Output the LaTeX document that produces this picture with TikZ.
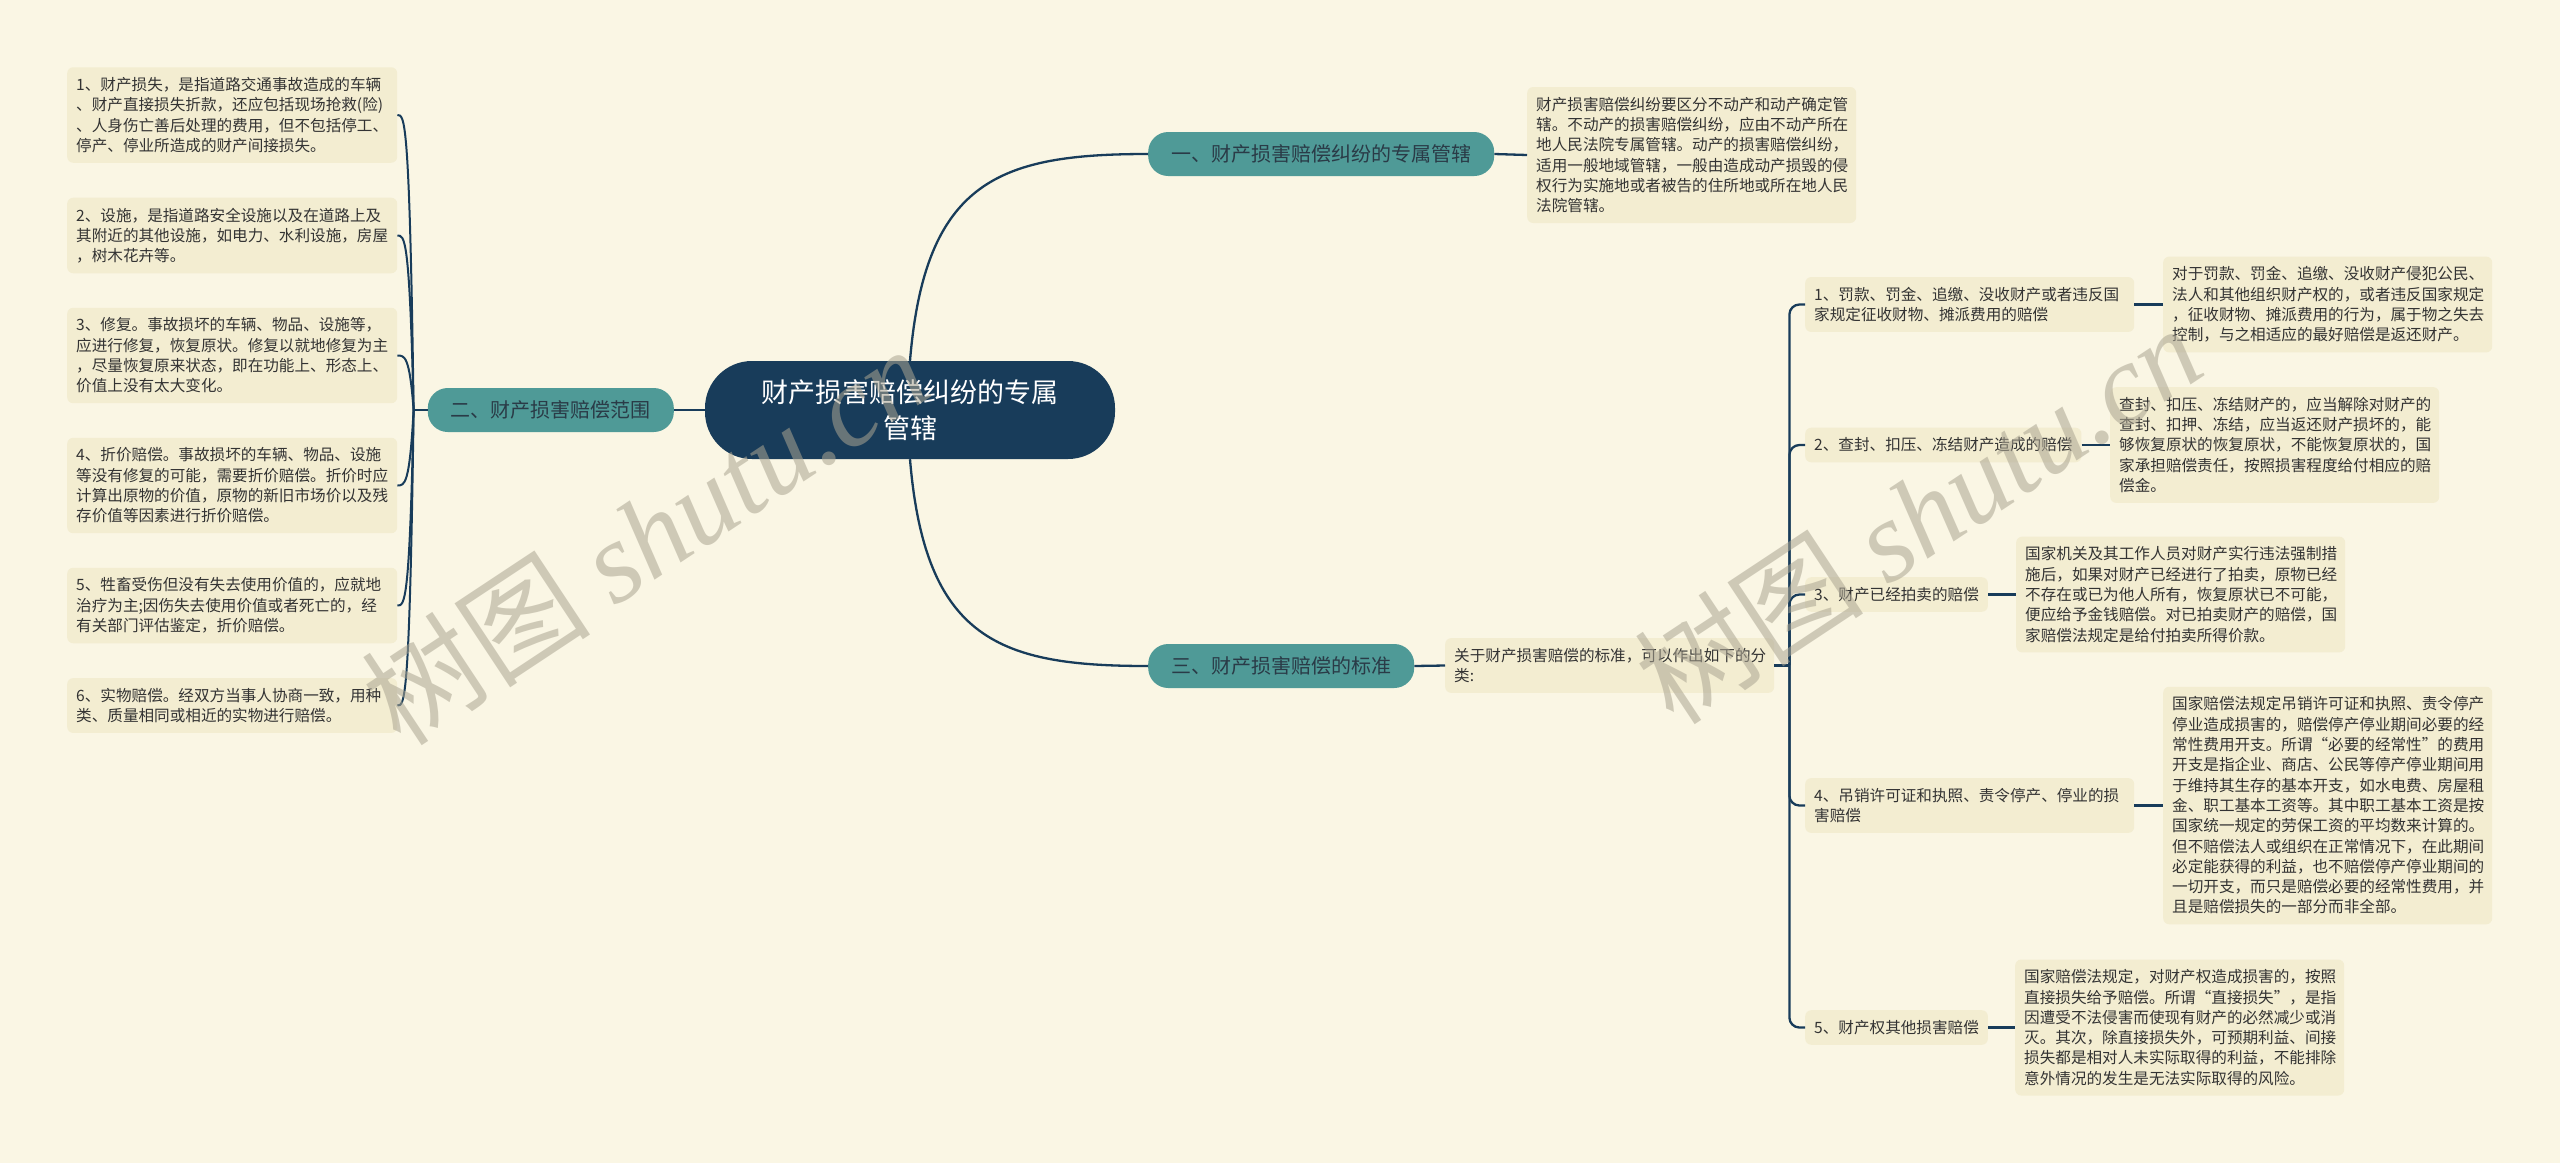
\documentclass[tikz,border=0pt]{standalone}
\usepackage{fontspec}
\setmainfont{Noto Sans CJK SC}
\newfontfamily\wmserif{Liberation Serif}
\usetikzlibrary{calc}
\definecolor{bg}{HTML}{FAF6E4}
\definecolor{leaf}{HTML}{F3EDD1}
\definecolor{navy}{HTML}{183C5A}
\definecolor{teal}{HTML}{4F9A97}
\definecolor{txt}{HTML}{333333}
\definecolor{brtxt}{HTML}{2A3B47}
\definecolor{wm}{HTML}{ABA592}
\begin{document}
\begin{tikzpicture}[x=1pt,y=-1pt,
  conn/.style={draw=navy, line width=2.3pt},
  leafbox/.style={fill=leaf, rounded corners=6pt, align=left, text width=#1,
    inner xsep=9pt, inner ysep=10pt, text=txt, anchor=west,
    font=\fontsize{15.6pt}{20.3pt}\selectfont},
  leafbox/.default=311pt,
  itembox/.style={fill=leaf, rounded corners=6pt, align=left,
    inner xsep=9pt, inner ysep=10pt, text=txt, anchor=west,
    font=\fontsize{15.6pt}{20.3pt}\selectfont},
  branch/.style={fill=teal, rounded corners=20pt, inner xsep=23pt, inner ysep=0pt,
    minimum height=44pt, text=brtxt, font=\fontsize{20pt}{24pt}\selectfont},
  rootbox/.style={fill=navy, rounded corners=47pt, minimum width=410pt, minimum height=98pt,
    text width=320pt, align=center, text=white, font=\fontsize{27pt}{36pt}\selectfont},
  wmark/.style={text=wm, text opacity=0.55, rotate=33.5, font=\fontsize{115pt}{120pt}\selectfont}
]
\useasboundingbox (0,0) rectangle (2560,1163);
\fill[bg] (0,0) rectangle (2560,1163);

% root and main branches
\node[rootbox] (c) at (910,410) {财产损害赔偿纠纷的专属\\管辖};
\node[branch, anchor=west] (br1) at (1148,154) {一、财产损害赔偿纠纷的专属管辖};
\node[branch, anchor=east] (br2) at (674,410) {二、财产损害赔偿范围};
\node[branch, anchor=west] (br3) at (1148,666) {三、财产损害赔偿的标准};

% branch 1 detail
\node[leafbox] (bd) at (1527,155) {财产损害赔偿纠纷要区分不动产和动产确定管\\辖。不动产的损害赔偿纠纷，应由不动产所在\\地人民法院专属管辖。动产的损害赔偿纠纷，\\适用一般地域管辖，一般由造成动产损毁的侵\\权行为实施地或者被告的住所地或所在地人民\\法院管辖。};

% branch 2 leaves
\node[leafbox=312pt] (l1) at (67,115) {1、财产损失，是指道路交通事故造成的车辆\\、财产直接损失折款，还应包括现场抢救(险)\\、人身伤亡善后处理的费用，但不包括停工、\\停产、停业所造成的财产间接损失。};
\node[leafbox=312pt] (l2) at (67,235.5) {2、设施，是指道路安全设施以及在道路上及\\其附近的其他设施，如电力、水利设施，房屋\\，树木花卉等。};
\node[leafbox=312pt] (l3) at (67,355.5) {3、修复。事故损坏的车辆、物品、设施等，\\应进行修复，恢复原状。修复以就地修复为主\\，尽量恢复原来状态，即在功能上、形态上、\\价值上没有太大变化。};
\node[leafbox=312pt] (l4) at (67,485.5) {4、折价赔偿。事故损坏的车辆、物品、设施\\等没有修复的可能，需要折价赔偿。折价时应\\计算出原物的价值，原物的新旧市场价以及残\\存价值等因素进行折价赔偿。};
\node[leafbox=312pt] (l5) at (67,605.5) {5、牲畜受伤但没有失去使用价值的，应就地\\治疗为主;因伤失去使用价值或者死亡的，经\\有关部门评估鉴定，折价赔偿。};
\node[leafbox=312pt] (l6) at (67,705.5) {6、实物赔偿。经双方当事人协商一致，用种\\类、质量相同或相近的实物进行赔偿。};

% branch 3 intro and items
\node[leafbox] (intro) at (1445,665.5) {关于财产损害赔偿的标准，可以作出如下的分\\类:};

\node[leafbox] (i1) at (1805,304.5) {1、罚款、罚金、追缴、没收财产或者违反国\\家规定征收财物、摊派费用的赔偿};
\node[itembox] (i2) at (1805,445) {2、查封、扣压、冻结财产造成的赔偿};
\node[itembox] (i3) at (1805,594.5) {3、财产已经拍卖的赔偿};
\node[leafbox] (i4) at (1805,805.5) {4、吊销许可证和执照、责令停产、停业的损\\害赔偿};
\node[itembox] (i5) at (1805,1027.5) {5、财产权其他损害赔偿};

\node[leafbox] (d1) at (2163,304.5) {对于罚款、罚金、追缴、没收财产侵犯公民、\\法人和其他组织财产权的，或者违反国家规定\\，征收财物、摊派费用的行为，属于物之失去\\控制，与之相适应的最好赔偿是返还财产。};
\node[leafbox] (d2) at (2110,445) {查封、扣压、冻结财产的，应当解除对财产的\\查封、扣押、冻结，应当返还财产损坏的，能\\够恢复原状的恢复原状，不能恢复原状的，国\\家承担赔偿责任，按照损害程度给付相应的赔\\偿金。};
\node[leafbox] (d3) at (2016,594.5) {国家机关及其工作人员对财产实行违法强制措\\施后，如果对财产已经进行了拍卖，原物已经\\不存在或已为他人所有，恢复原状已不可能，\\便应给予金钱赔偿。对已拍卖财产的赔偿，国\\家赔偿法规定是给付拍卖所得价款。};
\node[leafbox] (d4) at (2163,805.5) {国家赔偿法规定吊销许可证和执照、责令停产\\停业造成损害的，赔偿停产停业期间必要的经\\常性费用开支。所谓“必要的经常性”的费用\\开支是指企业、商店、公民等停产停业期间用\\于维持其生存的基本开支，如水电费、房屋租\\金、职工基本工资等。其中职工基本工资是按\\国家统一规定的劳保工资的平均数来计算的。\\但不赔偿法人或组织在正常情况下，在此期间\\必定能获得的利益，也不赔偿停产停业期间的\\一切开支，而只是赔偿必要的经常性费用，并\\且是赔偿损失的一部分而非全部。};
\node[leafbox] (d5) at (2015,1027.5) {国家赔偿法规定，对财产权造成损害的，按照\\直接损失给予赔偿。所谓“直接损失”，是指\\因遭受不法侵害而使现有财产的必然减少或消\\灭。其次，除直接损失外，可预期利益、间接\\损失都是相对人未实际取得的利益，不能排除\\意外情况的发生是无法实际取得的风险。};

% connectors: root
\draw[conn] (c.north) .. controls ($(c.north)+(15,-181)$) and ($(br1.west)+(-148,0)$) .. (br1.west);
\draw[conn] (c.south) .. controls ($(c.south)+(15,181)$) and ($(br3.west)+(-148,0)$) .. (br3.west);
\draw[conn] (c.west) -- (br2.east);
\draw[conn] (br1.east) -- (bd.west);

% left bracket
\coordinate (L) at ($(br2.west)+(-14,0)$);
\draw[conn] (br2.west) -- (L);
\foreach \n in {l1,l2,l3,l4,l5,l6}{
  \draw[conn, line width=2pt] (L) .. controls ($(L |- \n.east)+(-4,0)$) and ($(L |- \n.east)+(-9,0)$) .. (\n.east);
}

% right trunk
\draw[conn] (br3.east) -- (intro.west);
\coordinate (R) at ($(intro.east)+(15,0)$);
\draw[conn] (intro.east) -- (R);
\foreach \n in {i1,i2,i3,i4,i5}{
  \draw[conn, rounded corners=10pt] (R) |- (\n.west);
}
\draw[conn] (i1.east) -- (d1.west);
\draw[conn] (i2.east) -- (d2.west);
\draw[conn] (i3.east) -- (d3.west);
\draw[conn] (i4.east) -- (d4.west);
\draw[conn] (i5.east) -- (d5.west);

% watermarks
\node[wmark] (w1) at (645,535) {树图 {\wmserif\itshape shutu.cn}};
\node[wmark] (w2) at (1918,514) {树图 {\wmserif\itshape shutu.cn}};
\end{tikzpicture}
\end{document}
